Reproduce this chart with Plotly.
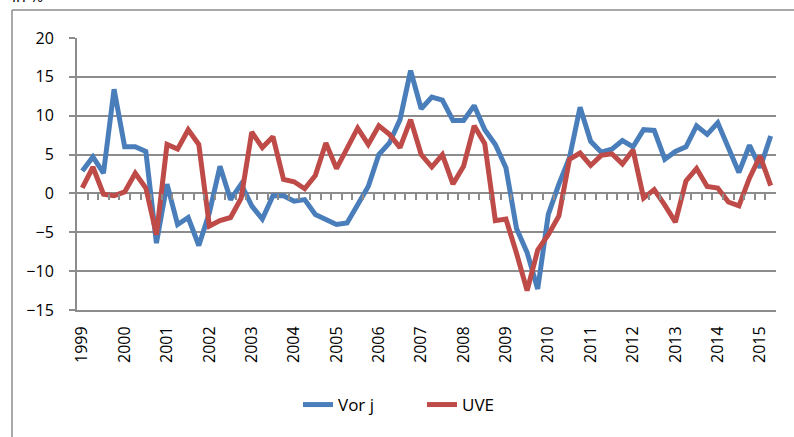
import plotly.graph_objects as go

years = [str(y) for y in range(1999, 2016)]
n_quarters = 66  # 1999Q1 .. 2015Q2

vor_j = [2.9, 4.7, 2.6, 13.4, 6.0, 6.0, 5.4, -6.4, 1.2, -4.0, -3.1, -6.7, -2.5, 3.5,
         -0.8, 1.2, -1.6, -3.3, -0.3, -0.3, -1.0, -0.8, -2.7, -3.3, -4.0, -3.8, -1.5,
         0.9, 5.0, 6.5, 9.5, 15.8, 10.9, 12.4, 12.0, 9.4, 9.4, 11.3, 8.2, 6.3, 3.3,
         -4.5, -7.6, -12.3, -2.7, 1.2, 4.6, 11.1, 6.7, 5.3, 5.7, 6.8, 6.0, 8.2, 8.1,
         4.4, 5.4, 6.0, 8.7, 7.6, 9.1, 5.7, 2.7, 6.2, 3.3, 7.4]

uve = [0.7, 3.4, -0.1, -0.3, 0.2, 2.6, 0.7, -5.3, 6.3, 5.7, 8.2, 6.3, -4.2, -3.5,
       -3.1, -0.6, 7.9, 5.9, 7.3, 1.8, 1.5, 0.6, 2.3, 6.5, 3.2, 5.8, 8.4, 6.3, 8.7,
       7.6, 5.9, 9.5, 5.0, 3.4, 5.0, 1.2, 3.5, 8.7, 6.4, -3.5, -3.3, -7.7, -12.5,
       -7.3, -5.3, -2.9, 4.4, 5.2, 3.6, 4.9, 5.1, 3.8, 5.6, -0.6, 0.5, -1.5, -3.7,
       1.6, 3.2, 0.9, 0.7, -1.1, -1.6, 2.0, 4.8, 1.0]

y_min, y_max = -15, 20

W, H = 794, 437
ML, MR, MT, MB = 77, 18, 38, 127
PW, PH = W - ML - MR, H - MT - MB

def px(x):
    return (x - ML) / PW

def py(y):
    return (H - MB - y) / PH

grid = "#8c8c8c"
blue = "#4a7ebb"
red = "#be4b48"
font = "'Open Sans', Lato, sans-serif"

q = list(range(n_quarters))

fig = go.Figure()
fig.add_trace(go.Scatter(x=q, y=vor_j, mode="lines", name="Vor j",
                         line=dict(color=blue, width=5)))
fig.add_trace(go.Scatter(x=q, y=uve, mode="lines", name="UVE",
                         line=dict(color=red, width=5)))
# helper trace for zero-line category ticks
fig.add_trace(go.Scatter(x=[0], y=[None], xaxis="x2", showlegend=False,
                         hoverinfo="skip"))

fig.update_layout(
    width=W, height=H,
    margin=dict(l=ML, r=MR, t=MT, b=MB, autoexpand=False),
    paper_bgcolor="white", plot_bgcolor="white",
    font=dict(family=font, size=16, color="#000000"),
    xaxis=dict(range=[-0.5, n_quarters - 0.5], tickmode="array",
               tickvals=[4 * i for i in range(len(years))], ticktext=years,
               tickangle=-90, showgrid=False, zeroline=False, ticks="",
               showline=True, linecolor=grid, linewidth=2, automargin=False,
               ticklabelstandoff=8),
    xaxis2=dict(range=[-0.5, n_quarters - 0.5], overlaying="x", anchor="free",
                position=(0 - y_min) / (y_max - y_min), side="bottom",
                tickmode="array",
                tickvals=[k - 0.5 for k in range(1, n_quarters)],
                ticks="outside", ticklen=6, tickwidth=1.5, tickcolor=grid,
                showticklabels=False, showgrid=False, zeroline=False,
                showline=False, automargin=False),
    yaxis=dict(range=[y_min, y_max], dtick=5, tick0=0, showgrid=True,
               gridcolor=grid, gridwidth=2, zeroline=True, zerolinecolor=grid,
               zerolinewidth=2, showline=True, linecolor=grid, linewidth=2,
               ticks="outside", ticklen=6, tickwidth=2, tickcolor=grid,
               ticklabelstandoff=12, automargin=False),
    legend=dict(orientation="h", x=px(298), y=py(405), xanchor="left",
                yanchor="middle", font=dict(size=17), itemwidth=30,
                entrywidth=79, entrywidthmode="pixels",
                bgcolor="rgba(0,0,0,0)"),
    showlegend=True,
)

# outer chart frame
fig.add_shape(type="line", xref="paper", yref="paper", x0=px(12), x1=px(12),
              y0=py(10), y1=py(H + 2), line=dict(color=grid, width=1.5))
fig.add_shape(type="line", xref="paper", yref="paper", x0=px(12), x1=px(W + 2),
              y0=py(10), y1=py(10), line=dict(color=grid, width=1.5))

fig.add_annotation(text="in %", xref="paper", yref="paper", x=px(10), y=py(9),
                   xanchor="left", yanchor="bottom", showarrow=False,
                   font=dict(size=16, family=font))

fig.write_html("out.html",
               config={"displayModeBar": False},
               post_script="document.body.style.margin='0px';"
                           "document.body.style.overflow='hidden';")
